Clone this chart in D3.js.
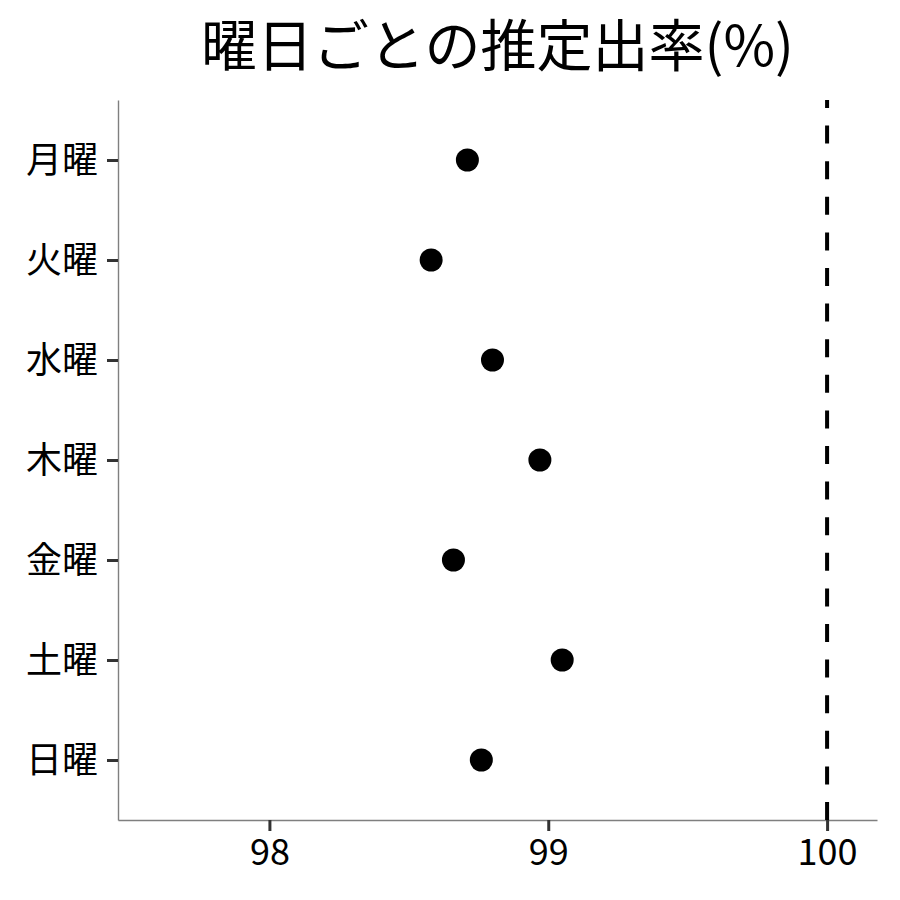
<!DOCTYPE html>
<html>
<head>
<meta charset="utf-8">
<script src="https://cdn.jsdelivr.net/npm/d3@7"></script>
<style>
  body { margin: 0; background: #fff; }
  text { font-family: "Noto Sans CJK JP", "Noto Sans", sans-serif; }
</style>
</head>
<body>
<div id="app"></div>
<script>
// Values
const days = ["月曜", "火曜", "水曜", "木曜", "金曜", "土曜", "日曜"];
const rates = [98.71, 98.58, 98.80, 98.97, 98.66, 99.05, 98.76];
const xTicks = [98, 99, 100];
const refLine = 100;
const title = "曜日ごとの推定出率(%)";

const width = 900, height = 900;
const margin = { top: 100, right: 23, bottom: 80, left: 118 };

const svg = d3.select("#app").append("svg")
  .attr("width", width)
  .attr("height", height);

const x = d3.scaleLinear()
  .domain([97.457, 100.179])
  .range([margin.left, width - margin.right]);

const y = d3.scalePoint()
  .domain(days)
  .range([margin.top, height - margin.bottom])
  .padding(0.6);

// title, centred over the panel
svg.append("text")
  .attr("x", (margin.left + width - margin.right) / 2)
  .attr("y", 66)
  .attr("text-anchor", "middle")
  .attr("font-size", 56)
  .attr("fill", "#000")
  .text(title);

// axes
const xAxis = svg.append("g")
  .attr("transform", `translate(0,${height - margin.bottom})`)
  .call(d3.axisBottom(x).tickValues(xTicks).tickFormat(d3.format("d"))
    .tickSize(11).tickSizeOuter(0).tickPadding(8));

const yAxis = svg.append("g")
  .attr("transform", `translate(${margin.left},0)`)
  .call(d3.axisLeft(y).tickSize(11).tickSizeOuter(0).tickPadding(9));

[xAxis, yAxis].forEach(g => {
  g.select(".domain").style("stroke", "#7f7f7f").style("stroke-width", "1.4px");
  g.selectAll(".tick line").style("stroke", "#333").style("stroke-width", "3px");
  g.selectAll(".tick text")
    .attr("fill", "#000")
    .attr("font-size", 36)
    .style("font-family", "'Noto Sans CJK JP', sans-serif");
});
yAxis.selectAll(".tick text").attr("dy", "0.35em");

// dashed reference line, drawn bottom-up like ggplot
svg.append("line")
  .attr("x1", x(refLine)).attr("x2", x(refLine))
  .attr("y1", height - margin.bottom).attr("y2", margin.top)
  .style("stroke", "#000")
  .style("stroke-width", "4px")
  .attr("stroke-dasharray", "18,17.6");

// points
svg.append("g")
  .selectAll("circle")
  .data(days)
  .join("circle")
  .attr("cx", (d, i) => x(rates[i]))
  .attr("cy", d => y(d))
  .attr("r", 11.5)
  .attr("fill", "#000");
</script>
</body>
</html>
